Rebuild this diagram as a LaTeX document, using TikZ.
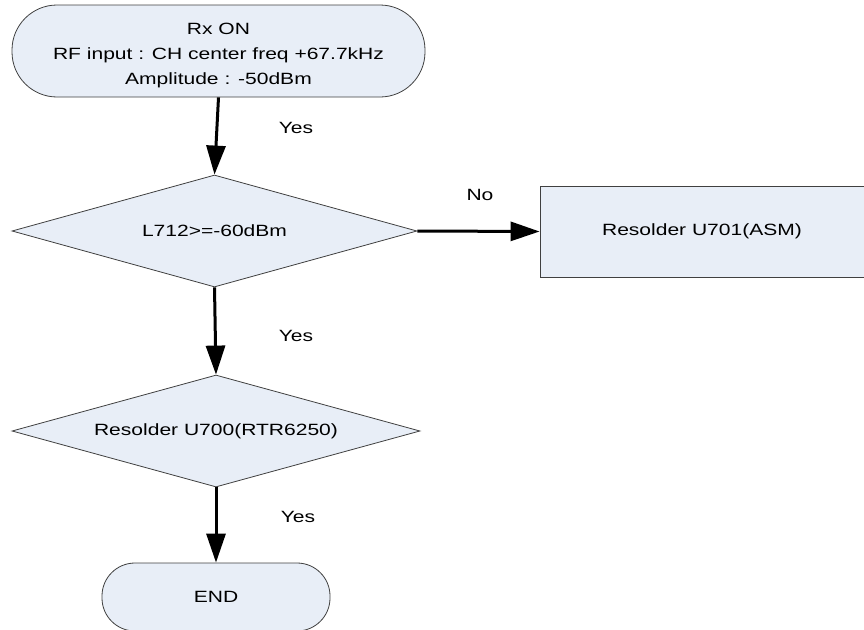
\documentclass[tikz,border=0pt]{standalone}
\usepackage{fontspec}
\setmainfont[FakeStretch=1.29]{Liberation Sans}
\usetikzlibrary{shapes.geometric,arrows.meta}
\definecolor{boxfill}{RGB}{232,238,247}
\definecolor{boxline}{RGB}{64,64,64}
\begin{document}
\begin{tikzpicture}[x=1pt,y=-1pt,
  every node/.style={font=\fontsize{16.3}{25}\selectfont,inner sep=0pt},
  term/.style={draw=boxline,fill=boxfill,line width=0.8pt,rounded corners=45pt,align=center},
  decide/.style={draw=boxline,fill=boxfill,line width=0.8pt,diamond,shape aspect=3.63,align=center},
  proc/.style={draw=boxline,fill=boxfill,line width=0.8pt,rectangle,align=center},
  flow/.style={line width=3pt,-{Triangle[length=29pt,width=19pt]}},
  lbl/.style={}]
\useasboundingbox (0,0) rectangle (864,629);
\node[term,minimum width=413pt,minimum height=92pt] (start) at (218.5,51) {\raisebox{-3pt}[\height][\depth]{\begin{tabular}{@{}c@{}}Rx ON\\RF input : CH center freq +67.7kHz\\Amplitude : -50dBm\end{tabular}}};
\node[decide,minimum width=405pt,minimum height=112pt] (d1) at (214.5,231) {L712>=-60dBm};
\node[proc,minimum width=324pt,minimum height=91pt] (r1) at (702,231.5) {Resolder U701(ASM)};
\node[decide,minimum width=408pt,minimum height=112pt] (d2) at (216,431) {Resolder U700(RTR6250)};
\node[term,rounded corners=33pt,minimum width=228pt,minimum height=68pt] (end) at (216,597) {END};
\draw[flow] (start.south) -- (d1.north);
\draw[flow] (d1.east) -- (r1.west);
\draw[flow] (d1.south) -- (d2.north);
\draw[flow] (d2.south) -- (end.north);
\node[lbl] (y1) at (296,128) {Yes};
\node[lbl] (no) at (480,195) {No};
\node[lbl] (y2) at (296,336) {Yes};
\node[lbl] (y3) at (298,517) {Yes};
\end{tikzpicture}
\end{document}
